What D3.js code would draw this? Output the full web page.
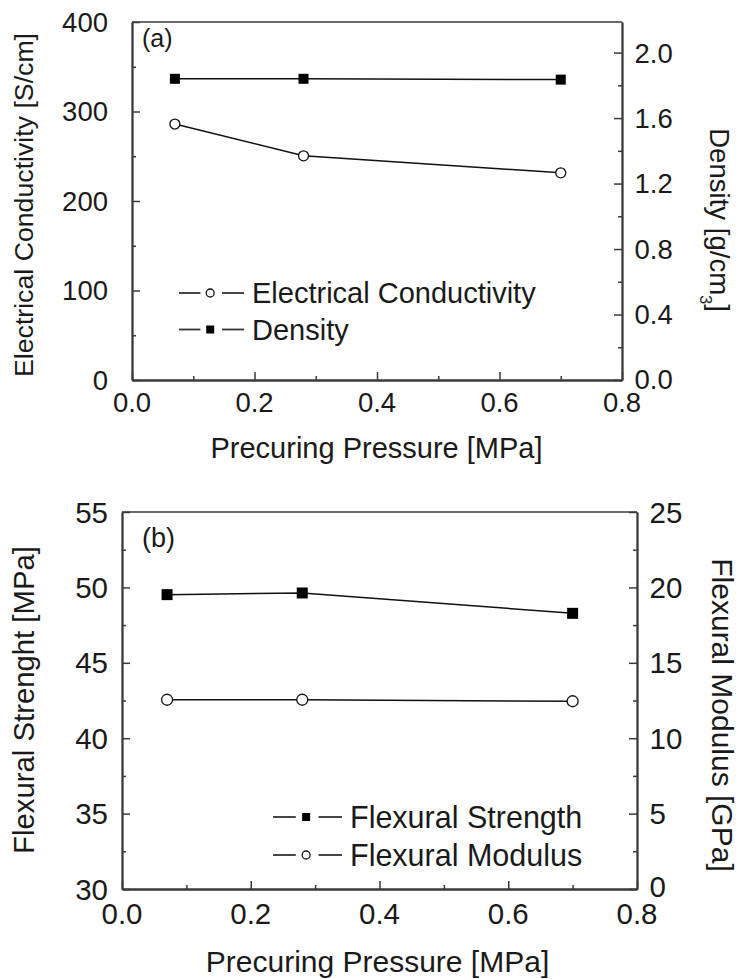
<!DOCTYPE html>
<html><head><meta charset="utf-8">
<script src="https://cdn.jsdelivr.net/npm/d3@7"></script>
<style>body{margin:0;background:#fff}svg{display:block}text{font-family:"Liberation Sans",Arial,sans-serif;fill:#1a1a1a}</style>
</head><body>
<script>
// Panel (a)
const pressureA = [0.07, 0.28, 0.70];
const conductivity = [286, 250.5, 231.5];
const density = [1.84, 1.84, 1.835];
const xTicks = [0.0, 0.2, 0.4, 0.6, 0.8];
const condTicks = [0, 100, 200, 300, 400];
const densTicks = [0.0, 0.4, 0.8, 1.2, 1.6, 2.0];
// Panel (b)
const pressureB = [0.07, 0.28, 0.70];
const strength = [49.52, 49.63, 48.28];
const modulus = [12.55, 12.55, 12.45];
const strTicks = [30, 35, 40, 45, 50, 55];
const modTicks = [0, 5, 10, 15, 20, 25];

const W = 739, H = 979;
const svg = d3.select("body").append("svg").attr("width", W).attr("height", H);
const AX = "#3a3a3a";

function panel(o) {
  const g = svg.append("g");
  const x = d3.scaleLinear().domain([0, 0.8]).range([o.l, o.r]);
  const yL = d3.scaleLinear().domain(o.lDom).range([o.b, o.t]);
  const yR = d3.scaleLinear().domain(o.rDom).range([o.b, o.t]);
  g.append("line").attr("x1", o.l).attr("x2", o.r).attr("y1", o.t).attr("y2", o.t).attr("stroke", AX).attr("stroke-width", 1.6);
  const mk = (gen, tr) => {
    const a = g.append("g").attr("transform", tr).call(gen);
    a.select(".domain").attr("stroke", AX).attr("stroke-width", 1.8);
    a.selectAll(".tick line").attr("stroke", AX).attr("stroke-width", 1.5);
    a.selectAll("text").remove();
    return a;
  };
  const minorX = [0.1, 0.3, 0.5, 0.7];
  mk(d3.axisBottom(x).tickValues(xTicks).tickSizeInner(-8).tickSizeOuter(0), `translate(0,${o.b})`);
  mk(d3.axisBottom(x).tickValues(minorX).tickSizeInner(-4).tickSizeOuter(0), `translate(0,${o.b})`);
  mk(d3.axisLeft(yL).tickValues(o.lTicks).tickSizeInner(-8).tickSizeOuter(0), `translate(${o.l},0)`);
  mk(d3.axisLeft(yL).tickValues(o.lMinor).tickSizeInner(-4).tickSizeOuter(0), `translate(${o.l},0)`);
  mk(d3.axisRight(yR).tickValues(o.rTicks).tickSizeInner(-8).tickSizeOuter(0), `translate(${o.r},0)`);
  mk(d3.axisRight(yR).tickValues(o.rMinor).tickSizeInner(-4).tickSizeOuter(0), `translate(${o.r},0)`);
  const fs = o.tickFs;
  xTicks.forEach(v => g.append("text").attr("x", x(v)).attr("y", o.b + o.xLabDy).attr("text-anchor", "middle").attr("font-size", fs).text(v.toFixed(1)));
  o.lTicks.forEach(v => g.append("text").attr("x", 108).attr("y", yL(v)).attr("dy", "0.36em").attr("text-anchor", "end").attr("font-size", fs).text(o.lFmt(v)));
  o.rTicks.forEach((v, i) => g.append("text").attr("x", o.r + 12.5).attr("y", yR(v) - (i === 0 ? o.r0Lift : 0)).attr("dy", "0.36em").attr("text-anchor", "start").attr("font-size", fs).text(o.rFmt(v)));
  g.append("text").attr("x", o.xTitX).attr("y", o.xTitY).attr("text-anchor", "middle").attr("font-size", o.xTitFs).text("Precuring Pressure [MPa]");
  g.append("text").attr("transform", `translate(${o.lTitX},${o.lTitY}) rotate(-90)`).attr("text-anchor", "middle").attr("font-size", o.lTitFs).text(o.lTitle);
  const rt = g.append("text").attr("transform", `translate(${o.rTitX},${o.rTitY}) rotate(90)`).attr("text-anchor", "middle").attr("font-size", o.rTitFs);
  o.rTitle(rt);
  g.append("text").attr("x", 142).attr("y", o.tagY).attr("font-size", o.tagFs).text(o.tag);
  o.series.forEach(s => {
    const ys = s.axis === "L" ? yL : yR;
    g.append("path").datum(s.xs.map((d, i) => [d, s.ys[i]]))
      .attr("d", d3.line().x(d => x(d[0])).y(d => ys(d[1])))
      .attr("fill", "none").attr("stroke", "#111").attr("stroke-width", 1.5);
    s.xs.forEach((d, i) => drawMarker(g, s.m, x(d), ys(s.ys[i]), o.mk));
  });
  o.legend.forEach((e, i) => {
    const ly = o.legY + i * o.legDy, lx = o.legX, L = o.legW;
    g.append("line").attr("x1", lx).attr("x2", lx + L * 0.33).attr("y1", ly).attr("y2", ly).attr("stroke", "#333").attr("stroke-width", 1.8);
    g.append("line").attr("x1", lx + L * 0.66).attr("x2", lx + L).attr("y1", ly).attr("y2", ly).attr("stroke", "#333").attr("stroke-width", 1.8);
    drawMarker(g, e.m, lx + L * 0.48, ly, 0.8);
    g.append("text").attr("x", lx + L + 8).attr("y", ly).attr("dy", "0.36em").attr("font-size", o.legFs).text(e.label);
  });
}

function drawMarker(g, m, cx, cy, k) {
  if (m === "sq") {
    const s = 10 * k;
    g.append("rect").attr("x", cx - s / 2).attr("y", cy - s / 2).attr("width", s).attr("height", s).attr("fill", "#000");
  } else {
    g.append("circle").attr("cx", cx).attr("cy", cy).attr("r", 5 * k).attr("fill", "#fff").attr("stroke", "#111").attr("stroke-width", 1.3);
  }
}

panel({
  l: 132, r: 622, t: 22, b: 380,
  lDom: [0, 400], rDom: [0, 2.187],
  lTicks: condTicks, lMinor: [50, 150, 250, 350],
  rTicks: densTicks, rMinor: [0.2, 0.6, 1.0, 1.4, 1.8],
  lFmt: v => String(v), rFmt: v => v.toFixed(1),
  tickFs: 27.5, xLabDy: 32, mk: 1, r0Lift: 1,
  xTitX: 376.5, xTitY: 458, xTitFs: 29,
  lTitX: 33, lTitY: 205, lTitFs: 26.7,
  rTitX: 710, rTitY: 220, rTitFs: 27.6,
  lTitle: "Electrical Conductivity [S/cm]",
  rTitle: t => { t.append("tspan").text("Density [g/cm"); t.append("tspan").attr("font-size", 16).attr("dy", 10).text("3"); t.append("tspan").attr("dy", -10).text("]"); },
  tag: "(a)", tagY: 47, tagFs: 25,
  series: [
    { xs: pressureA, ys: density, axis: "R", m: "sq" },
    { xs: pressureA, ys: conductivity, axis: "L", m: "ci" }
  ],
  legend: [{ m: "ci", label: "Electrical Conductivity" }, { m: "sq", label: "Density" }],
  legX: 179, legW: 65, legY: 293, legDy: 36.5, legFs: 29
});

panel({
  l: 122, r: 637, t: 512, b: 889,
  lDom: [30, 55], rDom: [0, 25],
  lTicks: strTicks, lMinor: [32.5, 37.5, 42.5, 47.5, 52.5],
  rTicks: modTicks, rMinor: [2.5, 7.5, 12.5, 17.5, 22.5],
  lFmt: v => String(v), rFmt: v => String(v),
  tickFs: 29.5, xLabDy: 35, mk: 1.1, r0Lift: 3,
  xTitX: 377.5, xTitY: 972, xTitFs: 30,
  lTitX: 34, lTitY: 700, lTitFs: 29.3,
  rTitX: 712, rTitY: 715, rTitFs: 30,
  lTitle: "Flexural Strenght [MPa]",
  rTitle: t => t.text("Flexural Modulus [GPa]"),
  tag: "(b)", tagY: 547, tagFs: 27,
  series: [
    { xs: pressureB, ys: modulus, axis: "R", m: "ci" },
    { xs: pressureB, ys: strength, axis: "L", m: "sq" }
  ],
  legend: [{ m: "sq", label: "Flexural Strength" }, { m: "ci", label: "Flexural Modulus" }],
  legX: 273, legW: 69, legY: 817, legDy: 38, legFs: 30.5
});
</script>
</body></html>
